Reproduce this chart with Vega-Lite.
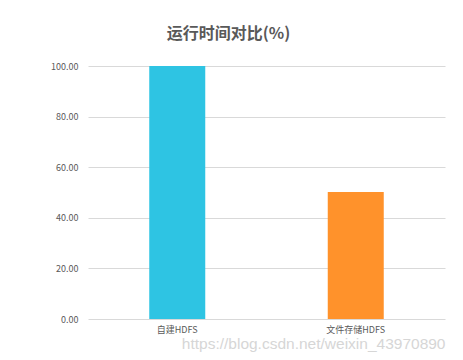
{
  "$schema": "https://vega.github.io/schema/vega-lite/v6.json",
  "width": 357,
  "height": 253,
  "autosize": {"type": "none"},
  "padding": {"left": 88, "top": 66, "right": 18, "bottom": 41},
  "background": "white",
  "title": {
    "text": "运行时间对比(%)",
    "font": "Noto Sans CJK SC",
    "fontSize": 16,
    "fontWeight": "bold",
    "color": "#595959",
    "anchor": "middle",
    "dx": -38,
    "offset": 20
  },
  "data": {
    "values": [
      {"type": "自建HDFS", "value": 100},
      {"type": "文件存储HDFS", "value": 50.2}
    ]
  },
  "mark": {"type": "bar", "size": 56},
  "encoding": {
    "x": {
      "field": "type",
      "type": "nominal",
      "sort": null,
      "scale": {"paddingInner": 0, "paddingOuter": 0},
      "axis": {
        "title": "https://blog.csdn.net/weixin_43970890",
        "titleFont": "Liberation Sans",
        "titleFontSize": 15.5,
        "titleFontWeight": "normal",
        "titleColor": "#D6D6D6",
        "titleAnchor": "end",
        "titlePadding": 2,
        "labelAngle": 0,
        "labelFont": "Noto Sans CJK SC",
        "labelFontSize": 9,
        "labelColor": "#595959",
        "labelPadding": 6,
        "ticks": false,
        "domain": false
      }
    },
    "y": {
      "field": "value",
      "type": "quantitative",
      "scale": {"domain": [0, 100], "nice": false},
      "axis": {
        "title": null,
        "values": [0, 20, 40, 60, 80, 100],
        "format": ".2f",
        "labelFont": "Noto Sans CJK SC",
        "labelFontSize": 9,
        "labelColor": "#595959",
        "labelPadding": 10,
        "ticks": false,
        "domain": false,
        "grid": true,
        "gridColor": "#D9D9D9",
        "gridWidth": 1
      }
    },
    "color": {
      "field": "type",
      "type": "nominal",
      "sort": null,
      "scale": {"range": ["#2EC4E3", "#FF922B"]},
      "legend": null
    }
  },
  "config": {
    "view": {"stroke": null}
  }
}
